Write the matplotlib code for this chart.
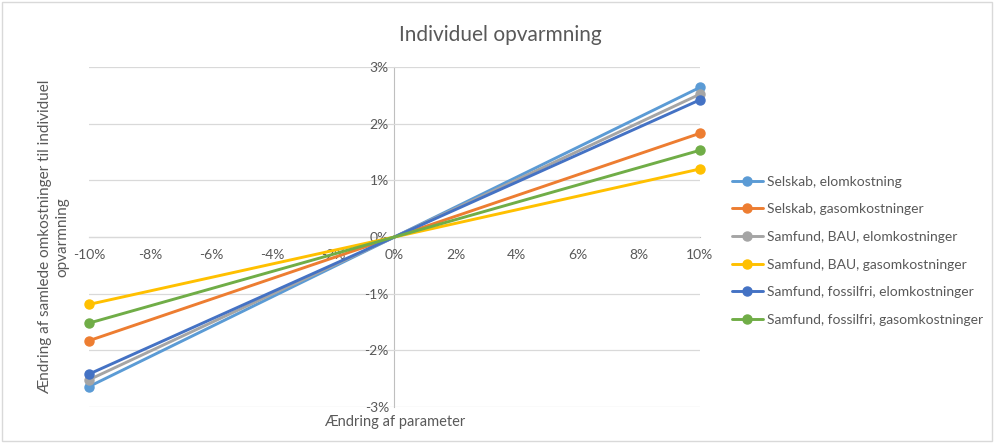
import matplotlib.pyplot as plt
from matplotlib.patches import Rectangle
from matplotlib.ticker import FuncFormatter

plt.rcParams['font.family'] = ['Lato', 'DejaVu Sans']

# parameter change (fraction) and resulting change in total cost (fraction)
param_change = [-0.10, 0.0, 0.10]

series_names = [
    "Selskab, elomkostning",
    "Selskab, gasomkostninger",
    "Samfund, BAU, elomkostninger",
    "Samfund, BAU, gasomkostninger",
    "Samfund, fossilfri, elomkostninger",
    "Samfund, fossilfri, gasomkostninger",
]
selskab_el = [-0.0264, 0.0, 0.0264]
selskab_gas = [-0.0183, 0.0, 0.0183]
bau_el = [-0.0252, 0.0, 0.0252]
bau_gas = [-0.0119, 0.0, 0.0120]
fossilfri_el = [-0.0242, 0.0, 0.0242]
fossilfri_gas = [-0.0152, 0.0, 0.0153]
series_values = [selskab_el, selskab_gas, bau_el, bau_gas, fossilfri_el, fossilfri_gas]
colors = ["#5B9BD5", "#ED7D31", "#A5A5A5", "#FFC000", "#4472C4", "#70AD47"]

x_ticks = [-0.10, -0.08, -0.06, -0.04, -0.02, 0.0, 0.02, 0.04, 0.06, 0.08, 0.10]
y_ticks = [-0.03, -0.02, -0.01, 0.0, 0.01, 0.02, 0.03]

fig = plt.figure(figsize=(9.94, 4.43), dpi=100)
ax = fig.add_axes([0.0895, 0.0813, 0.6147, 0.7675])

for name, vals, c in zip(series_names, series_values, colors):
    ax.plot(param_change, vals, color=c, lw=2.1, marker='o', markersize=6.5,
            markevery=[0, 2], label=name, solid_capstyle='round', clip_on=False)

ax.set_xlim(-0.10, 0.10)
ax.set_ylim(-0.03, 0.03)
ax.set_xticks(x_ticks)
ax.set_yticks(y_ticks)
pct = FuncFormatter(lambda v, p: f"{v * 100:.0f}%".replace("-0%", "0%"))
ax.xaxis.set_major_formatter(pct)
ax.yaxis.set_major_formatter(pct)

ax.grid(axis='y', color='#D9D9D9', lw=0.9)
ax.set_axisbelow(True)
for s in ['top', 'right']:
    ax.spines[s].set_visible(False)
ax.spines['left'].set_position(('data', 0))
ax.spines['bottom'].set_position(('data', 0))
ax.spines['left'].set_color('#BFBFBF')
ax.spines['bottom'].set_color('#BFBFBF')
ax.spines['left'].set_zorder(0.5)
ax.spines['bottom'].set_zorder(0.5)
ax.tick_params(axis='both', length=0, labelsize=10, labelcolor='#595959')
ax.tick_params(axis='x', pad=9)
ax.tick_params(axis='y', pad=4)

fig.text(0.503, 0.92, "Individuel opvarmning", ha='center', va='center',
         fontsize=15, color='#595959')
fig.text(0.397, 0.048, "Ændring af parameter", ha='center', va='center',
         fontsize=10.5, color='#595959')
fig.text(0.054, 0.465, "Ændring af samlede omkostninger til individuel\nopvarmning",
         ha='center', va='center', rotation=90, fontsize=11, color='#595959',
         multialignment='center', linespacing=1.25)

leg = ax.legend(loc='center left', bbox_to_anchor=(0.731, 0.434), bbox_transform=fig.transFigure,
                frameon=False, fontsize=10, labelcolor='#595959', handlelength=2.2,
                handletextpad=0.3, labelspacing=1.13, borderaxespad=0)

fig.patches.append(Rectangle((0.002, 0.004), 0.996, 0.992, transform=fig.transFigure,
                             fill=False, edgecolor='#D9D9D9', lw=1))

fig.savefig('out.png', dpi=100)
